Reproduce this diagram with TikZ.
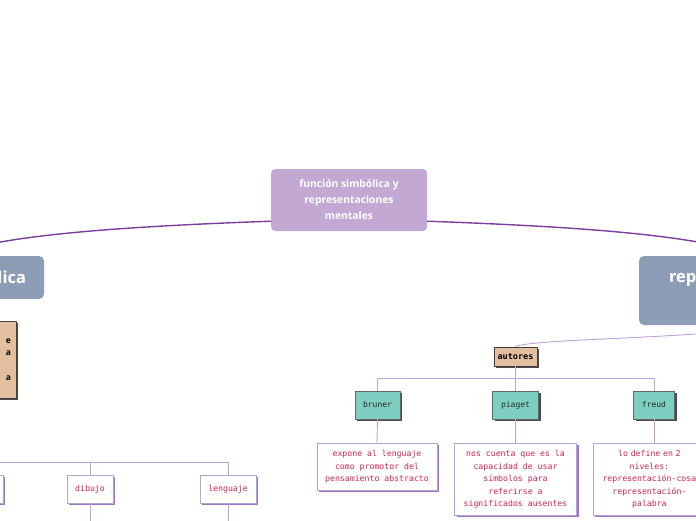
\documentclass[tikz,border=0pt]{standalone}
\usepackage{fontspec}
\setmainfont{Open Sans}
\setmonofont{DejaVu Sans Mono}
\usetikzlibrary{positioning,calc,shadows}
\definecolor{lilac}{HTML}{C2A8D3}
\definecolor{slate}{HTML}{8C9DB5}
\definecolor{linkpurple}{HTML}{7A3E9D}
\definecolor{thinlilac}{HTML}{BCA2D8}
\definecolor{tan}{HTML}{E3BFA0}
\definecolor{teal}{HTML}{7ECFC2}
\definecolor{noteborder}{HTML}{B9A0D6}
\definecolor{noteshadow}{HTML}{9A78C0}
\definecolor{notered}{HTML}{D4224F}
\tikzset{
  topic/.style={fill=lilac,rounded corners=4pt,text=white,align=center,
    font=\bfseries\fontsize{10.3}{16}\selectfont,minimum width=156,minimum height=62},
  branch/.style={fill=slate,rounded corners=5pt,text=white,
    font=\bfseries\fontsize{16.5}{20}\selectfont},
  link/.style={linkpurple,line width=1.4pt},
  thinlink/.style={thinlilac,line width=0.9pt},
  tanbox/.style={fill=tan,draw=black!75,line width=0.6pt,
    drop shadow={shadow xshift=2pt,shadow yshift=-2pt,fill=black!70,opacity=1}},
  tealbox/.style={fill=teal,draw=black!60,line width=0.6pt,minimum height=28,
    font=\ttfamily\fontsize{8}{10}\selectfont,text=black!85,
    drop shadow={shadow xshift=2pt,shadow yshift=-2pt,fill=black!70,opacity=1}},
  notebox/.style={fill=white,draw=noteborder,line width=0.8pt,text=notered,align=center,
    font=\ttfamily\fontsize{8.2}{12.5}\selectfont,
    drop shadow={shadow xshift=2pt,shadow yshift=-2pt,fill=noteshadow,opacity=1}},
}
\begin{document}
\begin{tikzpicture}[x=1pt,y=-1pt]
  \useasboundingbox (0,0) rectangle (696,520);
  \clip (0,0) rectangle (696,520);
  % main topic and its two branches
  \node[topic] (cen) at (349,200) {función simbólica y\\representaciones\\mentales};
  \node[branch,minimum width=190,minimum height=43,text width=154,align=right,inner xsep=18]
    (simb) at (-51,277.5) {lica};
  \node[branch,minimum width=221,minimum height=69] (rep) at (749.5,290.5) {};
  \node[text=white,font=\bfseries\fontsize{16.5}{20}\selectfont,anchor=west,inner sep=0]
    (reptxt) at ($(rep.west)+(30,-11)$) {rep};
  \draw[link] ($(cen.south west)+(0,-10)$) .. controls (138,226) and (-2,234) .. (simb.north);
  \draw[link] ($(cen.south east)+(0,-10)$) .. controls (560,226) and (700,234) .. (rep.north);
  % left side
  \node[tanbox,minimum width=112,minimum height=77,align=right,text width=102,
    font=\bfseries\fontsize{8.5}{12.3}\selectfont,inner xsep=3] (defn) at (-40,359.5)
    {e\\a\\\mbox{}\\a};
  \node[notebox,minimum width=66,minimum height=28] (imit) at (-30,489) {};
  \node[notebox,minimum width=46,minimum height=28] (dibujo) at (90,489) {dibujo};
  \node[notebox,minimum width=56,minimum height=28] (lenguaje) at (228,489) {lenguaje};
  \draw[thinlink] (defn.south) -- ++(0,64) coordinate (lbus) -| (imit.north);
  \draw[thinlink] (lbus) -| (dibujo.north);
  \draw[thinlink] (lbus) -| (lenguaje.north);
  \draw[thinlink] (dibujo.south) -- ++(0,30);
  \draw[thinlink] (lenguaje.south) -- ++(0,30);
  % right side: autores
  \node[tanbox,minimum width=43,minimum height=19,inner sep=1,
    font=\ttfamily\bfseries\fontsize{8.5}{10}\selectfont] (autores) at (515.5,356.5) {autores};
  \draw[thinlink] (rep.south) .. controls (740,338) and (530,338) .. (autores.north);
  \node[tealbox,minimum width=45] (bruner) at (377.5,405) {bruner};
  \node[tealbox,minimum width=46] (piaget) at (515.5,405) {piaget};
  \node[tealbox,minimum width=41] (freud) at (654,405) {freud};
  \draw[thinlink] (autores.south) -- ++(0,12) coordinate (rbus) -| (bruner.north);
  \draw[thinlink] (rbus) -- (piaget.north);
  \draw[thinlink] (rbus) -| (freud.north);
  \node[notebox,anchor=north,minimum width=120,inner ysep=7] (brunertxt) at (377,443)
    {expone al lenguaje\\como promotor del\\pensamiento abstracto};
  \node[notebox,anchor=north,minimum width=122,inner ysep=7] (piagettxt) at (515.5,443)
    {nos cuenta que es la\\capacidad de usar\\símbolos para\\referirse a\\significados ausentes};
  \node[notebox,anchor=north west,text width=104,inner xsep=4,inner ysep=7] (freudtxt) at (593,443)
    {lo define en 2\\niveles:\\representación-cosa\\representación-\\palabra};
  \draw[thinlink] (bruner.south) -- (brunertxt.north);
  \draw[thinlink] (piaget.south) -- (piagettxt.north);
  \draw[thinlink] (freud.south) -- (freud.south |- freudtxt.north);
\end{tikzpicture}
\end{document}
